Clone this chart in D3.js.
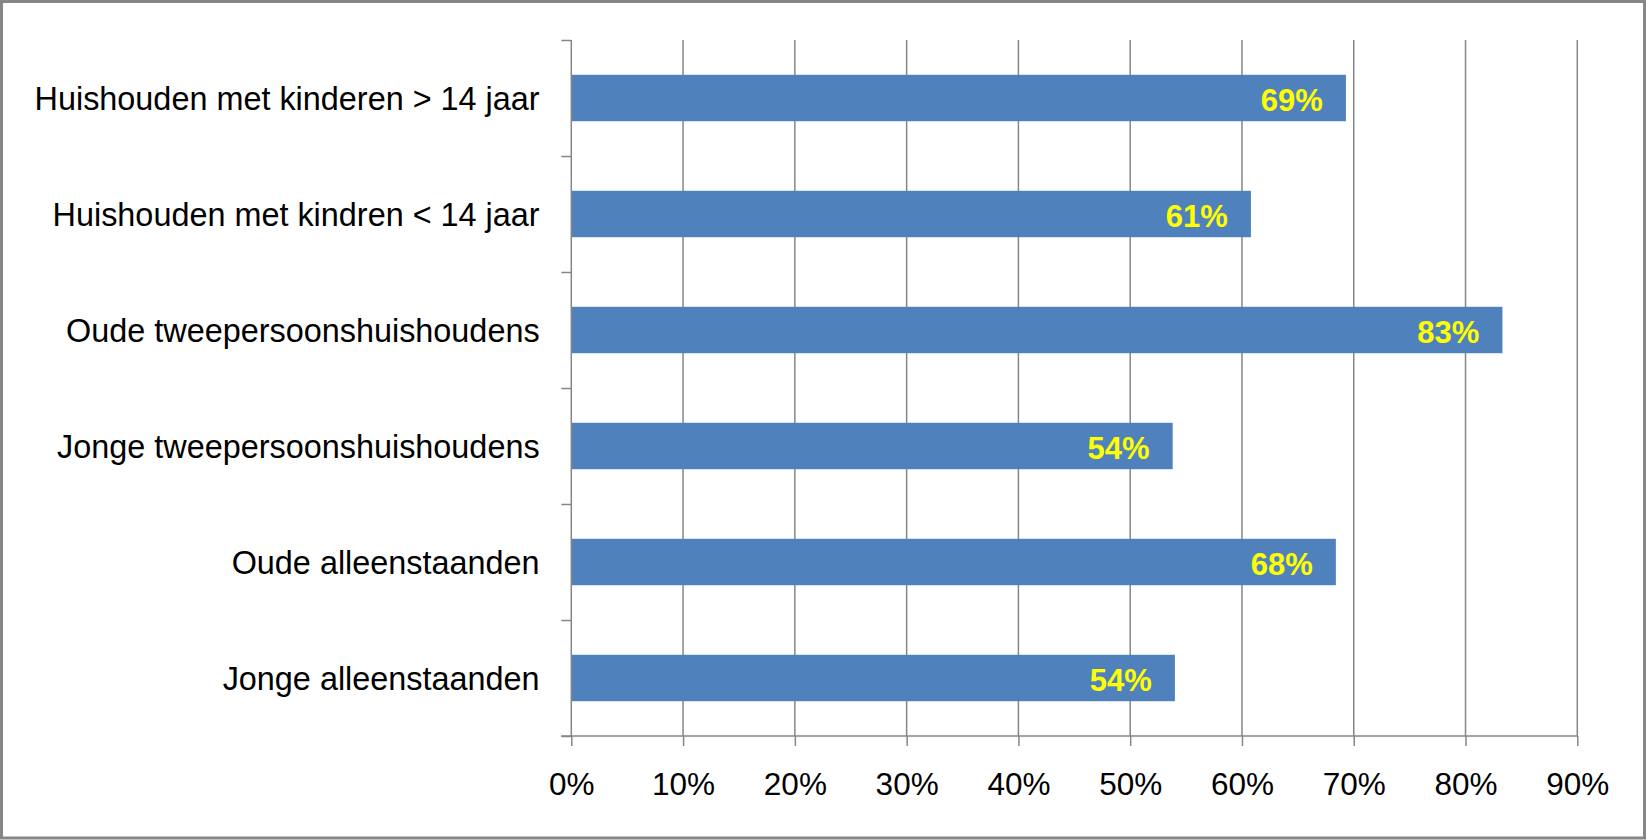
<!DOCTYPE html>
<html>
<head>
<meta charset="utf-8">
<script src="https://cdn.jsdelivr.net/npm/d3@7"></script>
<style>
	body { margin: 0; background: #fff; }
	svg { display: block; font-family: "Liberation Sans", Arial, sans-serif; }
</style>
</head>
<body>
<div class="chart"></div>
<script>
var categories = [
	"Huishouden met kinderen > 14 jaar",
	"Huishouden met kindren < 14 jaar",
	"Oude tweepersoonshuishoudens",
	"Jonge tweepersoonshuishoudens",
	"Oude alleenstaanden",
	"Jonge alleenstaanden"
];
var values = [0.693, 0.608, 0.833, 0.538, 0.684, 0.540];
var xTicks = [0, 0.1, 0.2, 0.3, 0.4, 0.5, 0.6, 0.7, 0.8, 0.9];

var data = categories.map(function(c, i){ return {name: c, value: values[i]}; });

function drawChart() {
	var sel = d3.select(".chart").html("");
	var width = 1646;
	var height = 840;

	var svg = sel.append("svg")
		.attr("width", width)
		.attr("height", height)

	// outer frame
	svg.append("rect")
		.attr("x", 1.5).attr("y", 1.5)
		.attr("width", 1643).attr("height", 836.5)
		.attr("fill", "#fff")
		.attr("stroke", "#868686")
		.attr("stroke-width", 3)

	var margin = {top: 40, right: 68.7, bottom: 104, left: 571.3};
	width -= margin.left + margin.right;
	height -= margin.top + margin.bottom;

	var x = d3.scaleLinear().domain([0, 0.9]).range([0, width]);
	var y = d3.scaleBand().domain(categories).range([0, height]).paddingInner(0.6).paddingOuter(0.3);
	var yTick = d3.scaleLinear().domain([0, categories.length]).range([0, height]);

	var g = svg.append("g").attr("transform", "translate(" + margin.left + "," + margin.top + ")");

	// vertical gridlines
	g.selectAll("line.grid")
		.data(xTicks.slice(1))
		.enter().append("line")
		.attr("class", "grid")
		.attr("x1", d => x(d)).attr("x2", d => x(d))
		.attr("y1", 0).attr("y2", height)
		.attr("stroke", "#868686")
		.attr("stroke-width", 1.5)

	// bars
	g.selectAll("rect.bar")
		.data(data)
		.enter().append("rect")
		.attr("class", "bar")
		.attr("x", 0)
		.attr("y", d => y(d.name))
		.attr("width", d => x(d.value))
		.attr("height", y.bandwidth())
		.attr("fill", "#4F81BD")

	// value labels, inside end
	g.selectAll("text.val")
		.data(data)
		.enter().append("text")
		.attr("class", "val")
		.attr("x", d => x(d.value) - 23)
		.attr("y", d => y(d.name) + y.bandwidth() / 2 + 13)
		.attr("text-anchor", "end")
		.attr("fill", "#FFFF00")
		.style("font-size", "31px")
		.style("font-weight", "bold")
		.text(d => d3.format(".0%")(d.value))

	// x axis
	var xAxis = d3.axisBottom(x).tickValues(xTicks).tickSize(10).tickFormat(d3.format(".0%"));
	var xg = g.append("g")
		.attr("transform", "translate(0," + height + ")")
		.call(xAxis)
	xg.select(".domain").remove();
	xg.append("line")
		.attr("x1", -10).attr("x2", width)
		.attr("stroke", "#868686").attr("stroke-width", 1.5)
	xg.selectAll(".tick line").attr("stroke", "#868686").attr("stroke-width", 1.5)
	xg.selectAll(".tick text")
		.attr("y", 59).attr("dy", null)
		.attr("fill", "#000")
		.style("font-size", "31.5px")
		.style("font-family", "\"Liberation Sans\", Arial, sans-serif")

	// y axis tick marks on category boundaries
	var yAxisTicks = d3.axisLeft(yTick).ticks(categories.length).tickSize(10).tickFormat("");
	var yg = g.append("g").call(yAxisTicks)
	yg.select(".domain").remove();
	yg.selectAll(".tick line").attr("stroke", "#868686").attr("stroke-width", 1.5)
	yg.append("line")
		.attr("y1", 0).attr("y2", height)
		.attr("stroke", "#868686").attr("stroke-width", 1.5)

	// category labels
	var yAxis = d3.axisLeft(y).tickSize(0).tickPadding(31.7);
	var cg = g.append("g").call(yAxis)
	cg.select(".domain").remove();
	cg.selectAll(".tick text")
		.attr("dy", "0.36em")
		.attr("fill", "#000")
		.style("font-size", "32.4px")
		.style("font-family", "\"Liberation Sans\", Arial, sans-serif")
}

drawChart();
</script>
</body>
</html>
